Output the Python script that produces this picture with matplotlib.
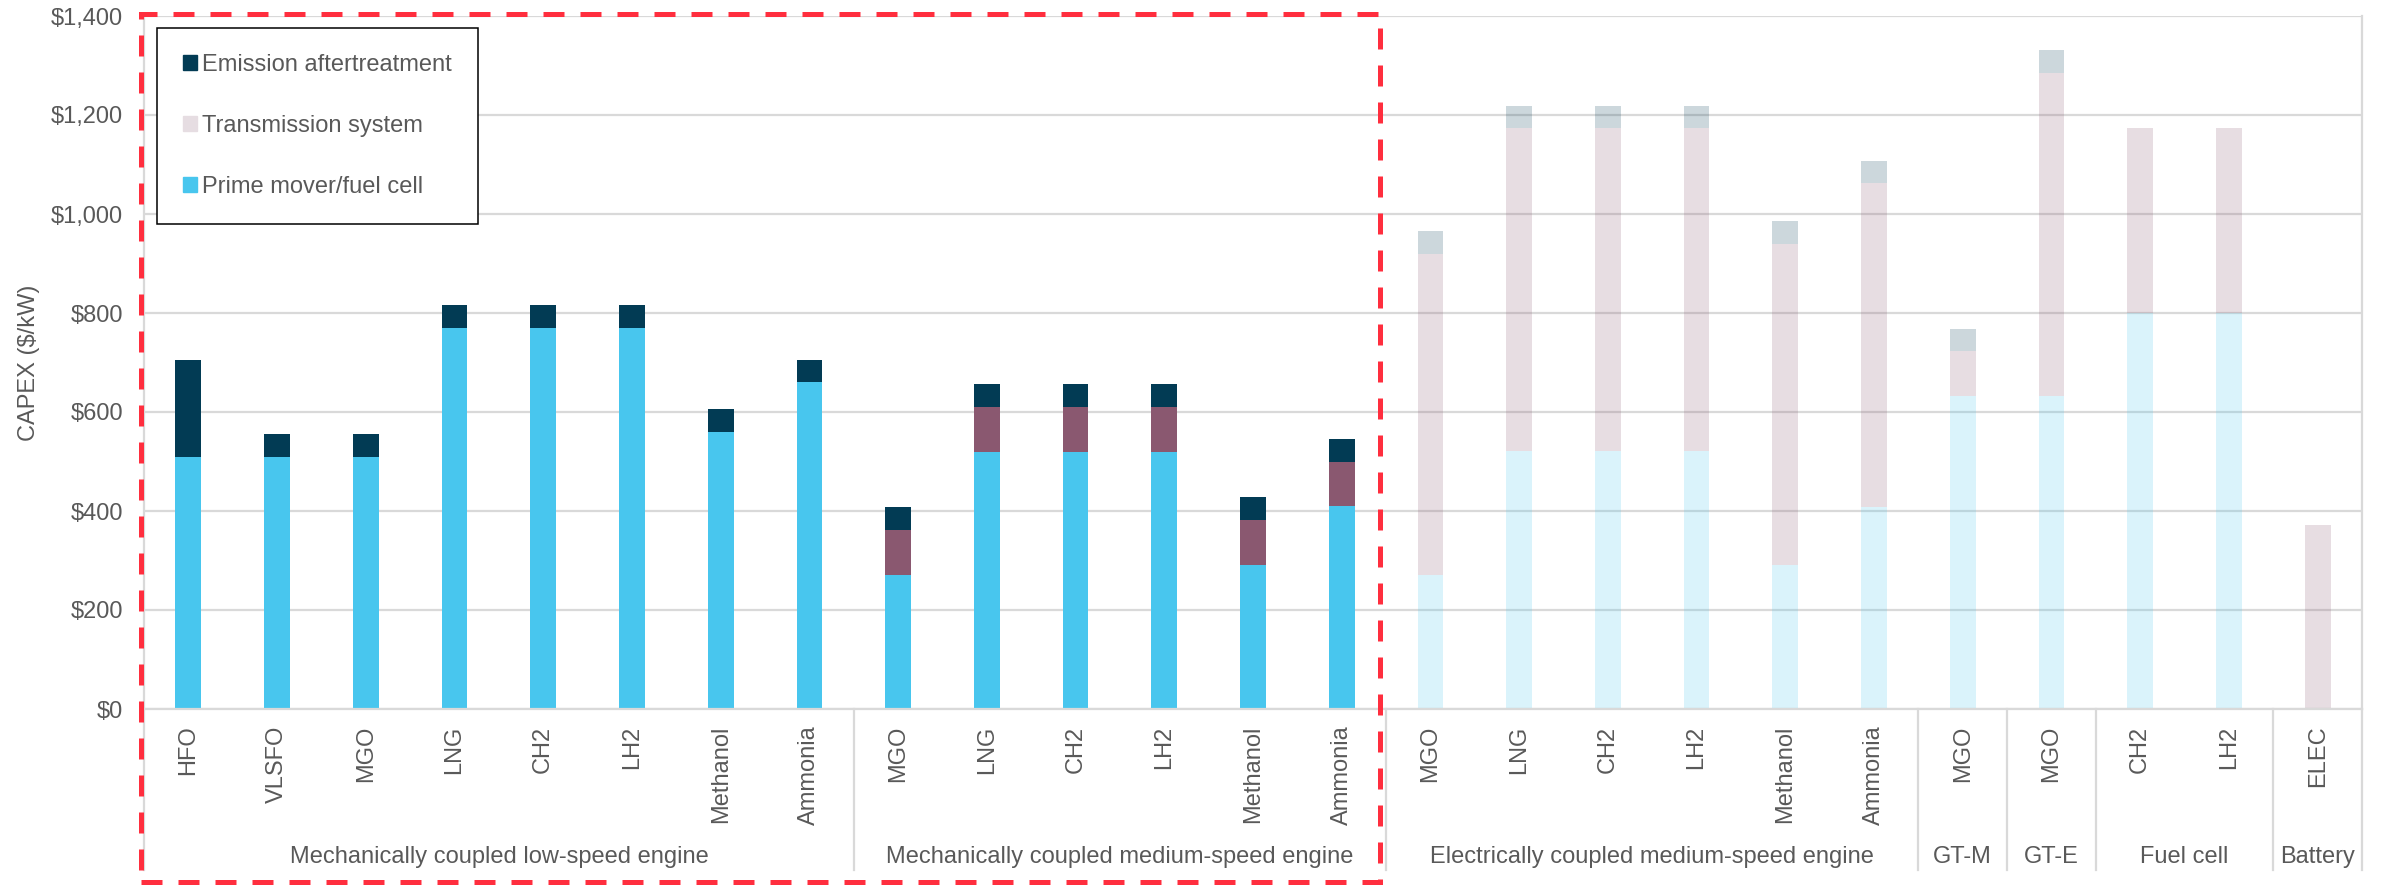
import matplotlib.pyplot as plt
import matplotlib.patches as mpatches
from matplotlib.patches import Patch
import numpy as np

plt.rcParams['font.family'] = ['Liberation Sans', 'DejaVu Sans']

# ---- DATA ----
categories = ["HFO", "VLSFO", "MGO", "LNG", "CH2", "LH2", "Methanol", "Ammonia",
              "MGO", "LNG", "CH2", "LH2", "Methanol", "Ammonia",
              "MGO", "LNG", "CH2", "LH2", "Methanol", "Ammonia",
              "MGO", "MGO", "CH2", "LH2", "ELEC"]
group_names = ["Mechanically coupled low-speed engine", "Mechanically coupled medium-speed engine",
               "Electrically coupled medium-speed engine", "GT-M", "GT-E", "Fuel cell", "Battery"]
group_sizes = [8, 6, 6, 1, 1, 2, 1]

prime_mover = [510, 510, 510, 770, 770, 770, 560, 660,
               270, 520, 520, 520, 290, 410,
               270, 521, 521, 521, 290, 409,
               633, 633, 801, 801, 0]
transmission = [0, 0, 0, 0, 0, 0, 0, 0,
                91, 90, 90, 90, 91, 90,
                650, 652, 652, 652, 650, 653,
                90, 652, 373, 373, 371]
emission = [196, 46, 46, 46, 46, 46, 46, 46,
            47, 47, 47, 47, 47, 46,
            46, 46, 46, 46, 46, 46,
            45, 46, 0, 0, 0]

n_highlight = 14  # first two groups drawn in full colour, the rest faded

# ---- COLOURS ----
c_prime = "#48C6EE"
c_trans = "#8A5870"
c_emis = "#023B54"
grid_c = "#D9D9D9"
txt_c = "#595959"
fs = 17

# ---- PLOT ----
fig = plt.figure(figsize=(23.85, 8.85), dpi=100)
ax = fig.add_axes([144 / 2385, 1 - 709 / 885, 2218 / 2385, 693 / 885])

x = np.arange(len(categories))
prime = np.array(prime_mover)
trans = np.array(transmission)
emis = np.array(emission)
w = 0.29

hi = x < n_highlight
lo = ~hi
for mask, a in [(hi, 1.0), (lo, 0.2)]:
    ax.bar(x[mask], prime[mask], w, color=c_prime, alpha=a, linewidth=0)
    ax.bar(x[mask], trans[mask], w, bottom=prime[mask], color=c_trans, alpha=a, linewidth=0)
    ax.bar(x[mask], emis[mask], w, bottom=prime[mask] + trans[mask], color=c_emis, alpha=a, linewidth=0)

ax.set_xlim(-0.5, len(categories) - 0.5)
ax.set_ylim(0, 1400)
ax.set_yticks(np.arange(0, 1401, 200))
ax.set_yticklabels([f"\\${v:,}" for v in range(0, 1401, 200)], fontsize=fs, color=txt_c)
ax.yaxis.grid(True, color=grid_c, linewidth=1.6)
ax.set_axisbelow(True)
ax.tick_params(axis="y", length=0, pad=15)

ax.set_xticks(x)
ax.set_xticklabels(categories, rotation=90, fontsize=fs, color=txt_c, va="top")
ax.tick_params(axis="x", length=0, pad=12)

ax.spines["top"].set_visible(False)
for s in ["left", "right", "bottom"]:
    ax.spines[s].set_color(grid_c)
    ax.spines[s].set_linewidth(1.6)

ax.set_ylabel("CAPEX (\\$/kW)", fontsize=fs, color=txt_c, labelpad=8)

# group labels and separators below the axis
trans_x = ax.get_xaxis_transform()
edges = np.concatenate([[0], np.cumsum(group_sizes)]) - 0.5
for e in edges:
    ax.plot([e, e], [0, -0.233], transform=trans_x, color=grid_c, linewidth=1.6, clip_on=False)
for name, a, b in zip(group_names, edges[:-1], edges[1:]):
    ax.text((a + b) / 2, -0.2135, name, transform=trans_x, ha="center", va="center",
            fontsize=fs, color=txt_c)

# legend
handles = [Patch(color=c_emis, label="Emission aftertreatment"),
           Patch(color="#E6DDE2", label="Transmission system"),
           Patch(color=c_prime, label="Prime mover/fuel cell")]
leg = ax.legend(handles=handles, loc="upper left", bbox_to_anchor=(0.0059, 0.983),
                borderaxespad=0, fontsize=fs, frameon=True, fancybox=False,
                edgecolor="black", framealpha=1, handlelength=0.57, handleheight=0.57,
                handletextpad=0.25, labelspacing=1.65, borderpad=1.1)
leg.get_frame().set_linewidth(1.1)
leg.set_zorder(10)
for t in leg.get_texts():
    t.set_color(txt_c)

# red dashed highlight box
rect = mpatches.Rectangle((141 / 2385, 1 - 882 / 885), (1380 - 141) / 2385, (882 - 14) / 885,
                          transform=fig.transFigure, fill=False, edgecolor="#FF2E3E",
                          linewidth=3.6, linestyle=(0, (4.2, 3.2)), zorder=20)
fig.patches.append(rect)

fig.savefig("out.png", dpi=100)
